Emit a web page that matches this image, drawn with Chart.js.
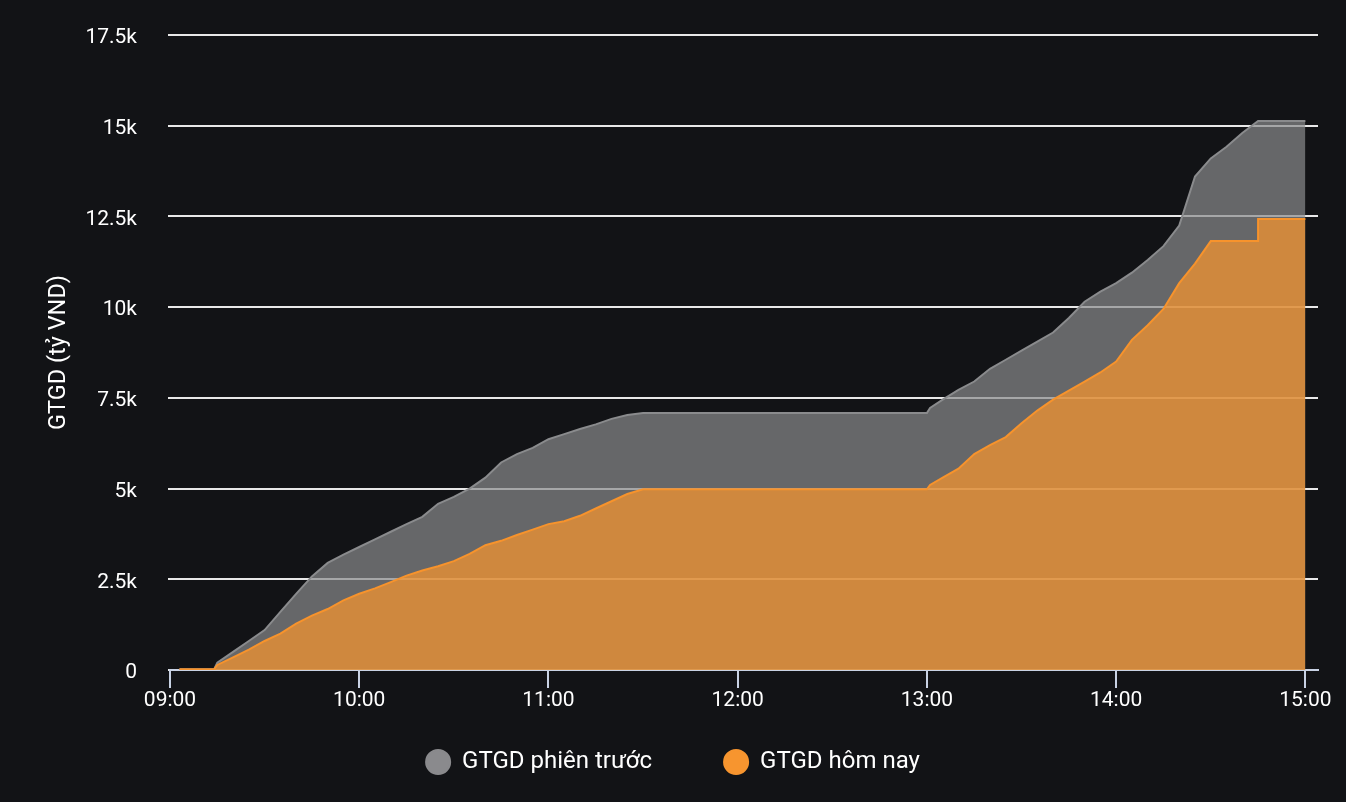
<!DOCTYPE html>
<html>
<head>
<meta charset="utf-8">
<script src="https://cdn.jsdelivr.net/npm/chart.js@4.4.1/dist/chart.umd.min.js"></script>
<style>
    body { margin: 0; background: #121316; }
    #wrap { width: 1346px; height: 802px; }
</style>
</head>
<body>
<div id="wrap"><canvas id="chart"></canvas></div>
<script>
// time of each reading (HH:MM), values in tỷ VND
const times = ['09:03', '09:14', '09:15', '09:20', '09:25', '09:30', '09:35', '09:40', '09:45', '09:50', '09:55',
    '10:00', '10:05', '10:10', '10:15', '10:20', '10:25', '10:30', '10:35', '10:40', '10:45', '10:50', '10:55',
    '11:00', '11:05', '11:10', '11:15', '11:20', '11:25', '11:30',
    '13:00', '13:01', '13:05', '13:10', '13:15', '13:20', '13:25', '13:30', '13:35', '13:40', '13:45', '13:50', '13:55',
    '14:00', '14:05', '14:10', '14:15', '14:20', '14:25', '14:30', '14:35', '14:40', '14:45', '14:45', '15:00']

const prevSession = [20, 20, 200, 500, 800, 1100, 1600, 2100, 2580, 2950, 3180,
    3390, 3600, 3810, 4020, 4220, 4580, 4770, 5000, 5300, 5720, 5950, 6120,
    6360, 6500, 6640, 6770, 6920, 7030, 7080,
    7080, 7220, 7450, 7720, 7950, 8300, 8550, 8800, 9050, 9300, 9700, 10150, 10430,
    10660, 10950, 11300, 11680, 12250, 13600, 14100, 14420, 14800, 15130, 15130, 15130]

const today = [20, 20, 140, 350, 560, 800, 1000, 1280, 1500, 1680, 1920,
    2100, 2250, 2420, 2600, 2740, 2860, 3000, 3200, 3440, 3560, 3720, 3870,
    4020, 4100, 4250, 4450, 4650, 4850, 4980,
    4980, 5100, 5300, 5550, 5950, 6200, 6420, 6800, 7150, 7450, 7700, 7950, 8200,
    8500, 9100, 9500, 9950, 10660, 11200, 11820, 11820, 11820, 11820, 12430, 12430]

const xTickLabels = ['09:00', '10:00', '11:00', '12:00', '13:00', '14:00', '15:00']
const yTickLabels = ['0', '2.5k', '5k', '7.5k', '10k', '12.5k', '15k', '17.5k']
const seriesNames = ['GTGD phiên trước', 'GTGD hôm nay']
const yTitle = 'GTGD (tỷ VND)'

// minutes after 09:00
const toMin = t => {
    const [h, m] = t.split(':').map(Number)
    return (h - 9) * 60 + m
}
const points = vals => times.map((t, i) => ({ x: toMin(t), y: vals[i] }))

Chart.defaults.font.family = 'Roboto'
Chart.defaults.color = '#ffffff'

new Chart(document.getElementById('chart'), {
    type: 'line',
    data: {
        datasets: [{
            label: seriesNames[1],
            data: points(today),
            borderColor: '#f7932c',
            backgroundColor: 'rgba(247, 149, 47, 0.73)',
            pointBackgroundColor: '#f7952f',
            pointBorderColor: '#f7952f',
            borderWidth: 2,
            fill: 'origin',
            pointRadius: 0,
            tension: 0
        }, {
            label: seriesNames[0],
            data: points(prevSession),
            borderColor: '#8a8b8d',
            backgroundColor: 'rgba(138, 139, 141, 0.7)',
            pointBackgroundColor: '#8a8a8d',
            pointBorderColor: '#8a8a8d',
            borderWidth: 2,
            fill: 'origin',
            pointRadius: 0,
            tension: 0
        }]
    },
    options: {
        responsive: true,
        maintainAspectRatio: false,
        animation: false,
        layout: { padding: { left: 28, right: 28, top: 35, bottom: 18 } },
        scales: {
            x: {
                type: 'linear',
                min: 0,
                max: 364,
                afterFit: s => { s.height = 8 },
                grid: { drawOnChartArea: false, drawTicks: true, tickLength: 18, color: '#c8d2e4', lineWidth: 2 },
                border: { display: true, color: '#c8d2e4', width: 2 },
                ticks: {
                    stepSize: 60,
                    includeBounds: false,
                    // mirror keeps the labels from being clipped to the short axis box
                    mirror: true,
                    padding: -43,
                    font: { size: 21 },
                    color: '#ffffff',
                    callback: v => xTickLabels[v / 60]
                }
            },
            y: {
                min: 0,
                max: 17500,
                afterFit: s => {
                    s.width = 142
                    s.paddingTop = 0
                    s.paddingBottom = 0
                },
                grid: { color: '#e8e8e8', lineWidth: 2, drawTicks: true, tickLength: 2 },
                border: { display: false },
                ticks: {
                    stepSize: 2500,
                    padding: 31,
                    labelOffset: 3,
                    font: { size: 21 },
                    color: '#ffffff',
                    callback: v => yTickLabels[v / 2500]
                },
                title: {
                    display: true,
                    text: yTitle,
                    color: '#ffffff',
                    font: { size: 23.5 },
                    padding: { top: 17 }
                }
            }
        },
        plugins: {
            legend: {
                position: 'bottom',
                reverse: true,
                labels: {
                    usePointStyle: true,
                    pointStyle: 'circle',
                    boxWidth: 24,
                    boxHeight: 17,
                    padding: 72,
                    color: '#ffffff',
                    font: { size: 24 }
                }
            },
            tooltip: { enabled: false }
        }
    }
})
</script>
</body>
</html>
